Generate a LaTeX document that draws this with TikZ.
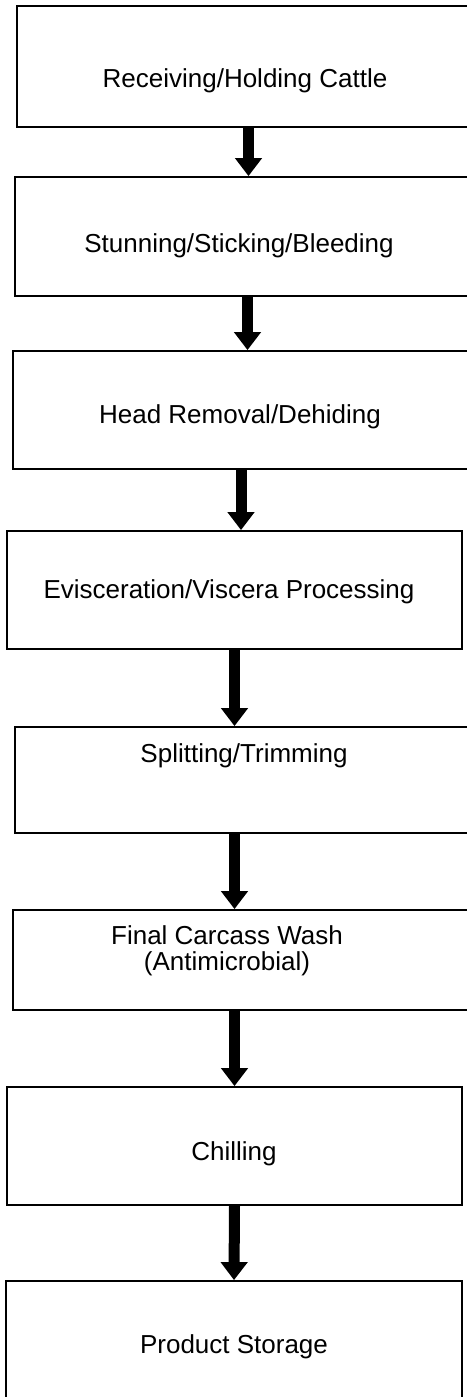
\documentclass[tikz,border=0pt]{standalone}
\usepackage{fontspec}
\setmainfont{Liberation Sans}
\usetikzlibrary{arrows.meta, positioning}

\begin{document}
\begin{tikzpicture}[
  x=0.5pt, y=-0.5pt,
  stepbox/.style={draw, line width=0.9pt, inner sep=0pt},
  steptext/.style={font=\fontsize{13}{13}\selectfont, inner sep=0pt, anchor=base, align=center},
  flowarrow/.style={line width=5.5pt, -{Triangle[width=13pt, length=9pt]}},
]
  \useasboundingbox (0,0) rectangle (466,1397);

  % process boxes
  \node[stepbox, minimum width=231.5pt, minimum height=60.5pt] (b1) at (248.5,66.5) {};
  \node[stepbox, minimum width=232.5pt, minimum height=59.5pt] (b2) at (247.5,236.5) {};
  \node[stepbox, minimum width=228pt, minimum height=59pt] (b3) at (241,410) {};
  \node[stepbox, minimum width=227.5pt, minimum height=59pt] (b4) at (234.5,590) {};
  \node[stepbox, minimum width=232.5pt, minimum height=53pt] (b5) at (247.5,780) {};
  \node[stepbox, minimum width=233.5pt, minimum height=50pt] (b6) at (246.5,960) {};
  \node[stepbox, minimum width=227.5pt, minimum height=59pt] (b7) at (234.5,1146) {};
  \node[stepbox, minimum width=228pt, minimum height=69.5pt] (b8) at (234,1350.5) {};

  % labels
  \node[steptext] (t1) at (245,87) {Receiving/Holding Cattle};
  \node[steptext] (t2) at (239,252) {Stunning/Sticking/Bleeding};
  \node[steptext] (t3) at (240,423) {Head Removal/Dehiding};
  \node[steptext] (t4) at (229,598) {Evisceration/Viscera Processing};
  \node[steptext] (t5) at (244,762) {Splitting/Trimming};
  \node[steptext, anchor=center] (t6) at (227,951) {Final Carcass Wash\\(Antimicrobial)};
  \node[steptext] (t7) at (234,1160) {Chilling};
  \node[steptext] (t8) at (234,1353) {Product Storage};

  % flow
  \draw[flowarrow] (b1.south) -- (b1.south |- b2.north);
  \draw[flowarrow] (b2.south) -- (b2.south |- b3.north);
  \draw[flowarrow] (b3.south) -- (b3.south |- b4.north);
  \draw[flowarrow] (b4.south) -- (b4.south |- b5.north);
  \draw[flowarrow] (b5.south -| b7.south) -- (b7.south |- b6.north);
  \draw[flowarrow] (b6.south -| b7.south) -- (b7.south |- b7.north);
  \draw[flowarrow] (b7.south) -- (b8.north);
\end{tikzpicture}
\end{document}
